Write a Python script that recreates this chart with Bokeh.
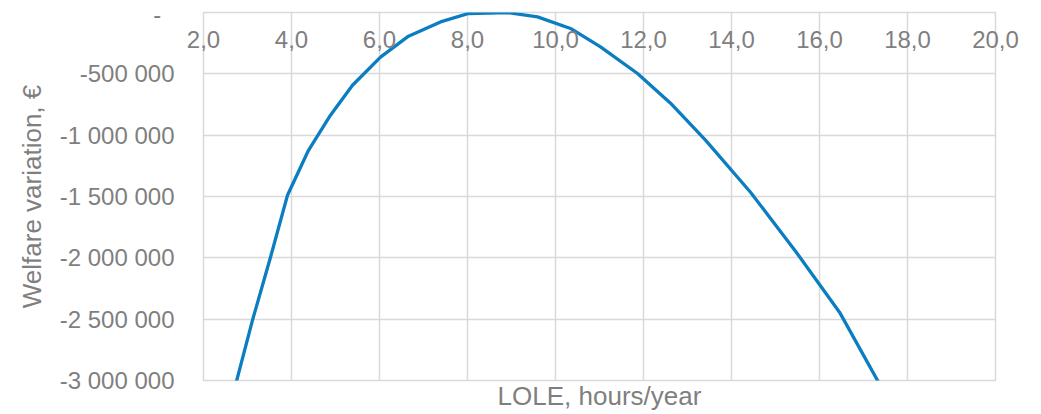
from bokeh.plotting import figure
from bokeh.models import (Range1d, FixedTicker, CustomJSTickFormatter, ColumnDataSource,
                          LinearAxis)
from bokeh.embed import file_html
from bokeh.resources import INLINE

# ---- data ----
lole = [2.74, 3.114, 3.523, 3.909, 4.386, 4.886, 5.386, 6.023, 6.659, 7.386,
        8.023, 8.909, 9.591, 10.341, 11.023, 11.864, 12.614, 13.409, 14.432,
        15.455, 16.455, 17.341]
welfare = [-3020000, -2508000, -1995000, -1490000, -1123000, -837000, -593000,
           -364000, -193000, -77000, -8000, -1000, -36000, -130000, -280000,
           -497000, -739000, -1041000, -1465000, -1946000, -2443000, -3014000]

x_ticks = [2, 4, 6, 8, 10, 12, 14, 16, 18, 20]
x_tick_labels = ["2,0", "4,0", "6,0", "8,0", "10,0", "12,0", "14,0", "16,0", "18,0", "20,0"]
y_ticks = [-3000000, -2500000, -2000000, -1500000, -1000000, -500000, 0]

x_title = "LOLE, hours/year"
y_title = "Welfare variation, €"

FONT = "Liberation Sans"
GRAY = "#7f7f7f"
GRID = "#d9d9d9"
BLUE = "#0b7dc1"

p = figure(width=1030, height=414, output_backend="svg", toolbar_location=None,
           x_range=Range1d(2, 20), y_range=Range1d(-3000000, 0),
           min_border_left=203, min_border_right=35, min_border_top=12,
           min_border_bottom=34)
p.background_fill_color = "white"
p.border_fill_color = "white"
p.outline_line_color = GRID
p.outline_line_width = 1.5

bottom = p.below[0]
left = p.left[0]

# axis at the zero line (top) carrying the x tick labels, drawn inside the frame
top_axis = LinearAxis(ticker=FixedTicker(ticks=x_ticks),
                      major_label_overrides={t: s for t, s in zip(x_ticks, x_tick_labels)})
p.add_layout(top_axis, "above")

# axes / grids
bottom.ticker = FixedTicker(ticks=[])
left.ticker = FixedTicker(ticks=y_ticks)
p.xgrid.ticker = FixedTicker(ticks=x_ticks)
p.ygrid.ticker = FixedTicker(ticks=y_ticks)
p.xgrid.grid_line_color = GRID
p.ygrid.grid_line_color = GRID
p.xgrid.grid_line_width = 1.5
p.ygrid.grid_line_width = 1.5

left.formatter = CustomJSTickFormatter(code="""
    if (Math.abs(tick) < 0.5) { return "-\\u00a0\\u00a0"; }
    const s = Math.abs(tick).toFixed(0).replace(/\\B(?=(\\d{3})+(?!\\d))/g, " ");
    return (tick < 0 ? "-" : "") + s;
""")
for ax in (bottom, left, top_axis):
    ax.axis_line_color = None
    ax.major_tick_line_color = None
    ax.minor_tick_line_color = None
    ax.major_tick_out = 0
    ax.major_tick_in = 0
    ax.minor_tick_out = 0
    ax.minor_tick_in = 0
    ax.major_label_text_font = FONT
    ax.major_label_text_color = GRAY
    ax.axis_label_text_font = FONT
    ax.axis_label_text_color = GRAY
    ax.axis_label_text_font_style = "normal"

top_axis.major_label_text_font_size = "24px"
top_axis.major_label_standoff = -35

left.major_label_text_font_size = "24px"
left.major_label_standoff = 29
left.axis_label = y_title
left.axis_label_text_font_size = "26px"
left.axis_label_standoff = 10

bottom.major_label_standoff = 0
bottom.axis_label = x_title
bottom.axis_label_text_font_size = "26px"
bottom.axis_label_standoff = 0

# curve
src = ColumnDataSource(dict(x=lole, y=welfare))
p.line(x="x", y="y", source=src, line_color=BLUE, line_width=3.3,
       line_join="round", line_cap="butt")

open("out.html", "w").write(file_html(p, INLINE))
